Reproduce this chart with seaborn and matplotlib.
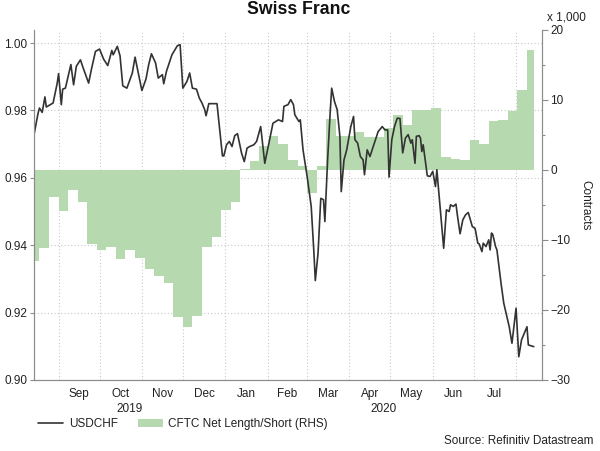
import matplotlib
matplotlib.use("Agg")
import matplotlib.pyplot as plt
import matplotlib.dates as mdates
from matplotlib.lines import Line2D
from matplotlib.patches import Patch
import pandas as pd
import seaborn as sns


# USDCHF spot
usd_dates = [
    "2019-08-14", "2019-08-17", "2019-08-18", "2019-08-20", "2019-08-22", "2019-08-23",
    "2019-08-26", "2019-08-28", "2019-08-31", "2019-09-01", "2019-09-03", "2019-09-04",
    "2019-09-06", "2019-09-08", "2019-09-10", "2019-09-12", "2019-09-14", "2019-09-17",
    "2019-09-19", "2019-09-23", "2019-09-25", "2019-09-28", "2019-10-01", "2019-10-04",
    "2019-10-07", "2019-10-10", "2019-10-11", "2019-10-14", "2019-10-16", "2019-10-18",
    "2019-10-21", "2019-10-25", "2019-10-27", "2019-11-01", "2019-11-04", "2019-11-06",
    "2019-11-08", "2019-11-11", "2019-11-13", "2019-11-16", "2019-11-17", "2019-11-19",
    "2019-11-23", "2019-11-27", "2019-11-29", "2019-12-01", "2019-12-04", "2019-12-06",
    "2019-12-08", "2019-12-11", "2019-12-13", "2019-12-15", "2019-12-17", "2019-12-18",
    "2019-12-20", "2019-12-26", "2019-12-27", "2019-12-30", "2019-12-31", "2020-01-02",
    "2020-01-04", "2020-01-06", "2020-01-08", "2020-01-10", "2020-01-13", "2020-01-15",
    "2020-01-17", "2020-01-19", "2020-01-22", "2020-01-24", "2020-01-27", "2020-01-30",
    "2020-02-03", "2020-02-05", "2020-02-09", "2020-02-12", "2020-02-13", "2020-02-16",
    "2020-02-18", "2020-02-20", "2020-02-21", "2020-02-24", "2020-02-25", "2020-02-27",
    "2020-03-01", "2020-03-04", "2020-03-06", "2020-03-07", "2020-03-09", "2020-03-11",
    "2020-03-13", "2020-03-14", "2020-03-16", "2020-03-18", "2020-03-19", "2020-03-21",
    "2020-03-23", "2020-03-25", "2020-03-26", "2020-03-28", "2020-03-30", "2020-04-02",
    "2020-04-04", "2020-04-05", "2020-04-07", "2020-04-09", "2020-04-11", "2020-04-12",
    "2020-04-14", "2020-04-16", "2020-04-18", "2020-04-20", "2020-04-22", "2020-04-25",
    "2020-04-27", "2020-04-29", "2020-04-30", "2020-05-02", "2020-05-04", "2020-05-06",
    "2020-05-08", "2020-05-10", "2020-05-12", "2020-05-14", "2020-05-16", "2020-05-17",
    "2020-05-19", "2020-05-20", "2020-05-22", "2020-05-23", "2020-05-24", "2020-05-25",
    "2020-05-28", "2020-05-30", "2020-06-01", "2020-06-03", "2020-06-04", "2020-06-07",
    "2020-06-09", "2020-06-11", "2020-06-13", "2020-06-14", "2020-06-16", "2020-06-18",
    "2020-06-19", "2020-06-21", "2020-06-23", "2020-06-25", "2020-06-27", "2020-06-30",
    "2020-07-02", "2020-07-04", "2020-07-05", "2020-07-07", "2020-07-08", "2020-07-10",
    "2020-07-12", "2020-07-13", "2020-07-14", "2020-07-15", "2020-07-17", "2020-07-18",
    "2020-07-21", "2020-07-23", "2020-07-27", "2020-07-29", "2020-08-01", "2020-08-03",
    "2020-08-05", "2020-08-09", "2020-08-10", "2020-08-14",
]
usd_values = [
    0.9728, 0.9792, 0.9807, 0.9794, 0.9840, 0.9810,
    0.9817, 0.9822, 0.9881, 0.9909, 0.9817, 0.9863,
    0.9866, 0.9901, 0.9936, 0.9876, 0.9931, 0.9950,
    0.9926, 0.9881, 0.9921, 0.9975, 0.9982, 0.9952,
    0.9933, 0.9978, 0.9965, 0.9990, 0.9962, 0.9873,
    0.9866, 0.9911, 0.9958, 0.9859, 0.9893, 0.9936,
    0.9968, 0.9941, 0.9896, 0.9906, 0.9879, 0.9916,
    0.9965, 0.9992, 0.9995, 0.9866, 0.9886, 0.9911,
    0.9866, 0.9863, 0.9837, 0.9822, 0.9802, 0.9784,
    0.9820, 0.9820, 0.9782, 0.9665, 0.9665, 0.9698,
    0.9708, 0.9693, 0.9725, 0.9731, 0.9673, 0.9648,
    0.9688, 0.9693, 0.9698, 0.9708, 0.9752, 0.9643,
    0.9723, 0.9762, 0.9772, 0.9767, 0.9812, 0.9817,
    0.9832, 0.9817, 0.9787, 0.9767, 0.9772, 0.9683,
    0.9604, 0.9515, 0.9376, 0.9295, 0.9376, 0.9539,
    0.9535, 0.9470, 0.9653, 0.9802, 0.9866, 0.9827,
    0.9802, 0.9723, 0.9559, 0.9653, 0.9683, 0.9752,
    0.9782, 0.9713, 0.9703, 0.9663, 0.9653, 0.9609,
    0.9683, 0.9663, 0.9688, 0.9713, 0.9737, 0.9752,
    0.9742, 0.9742, 0.9602, 0.9713, 0.9752, 0.9777,
    0.9776, 0.9674, 0.9718, 0.9728, 0.9703, 0.9713,
    0.9643, 0.9723, 0.9725, 0.9718, 0.9678, 0.9698,
    0.9606, 0.9604, 0.9619, 0.9574, 0.9624, 0.9485,
    0.9391, 0.9505, 0.9500, 0.9520, 0.9515, 0.9522,
    0.9490, 0.9434, 0.9475, 0.9490, 0.9497, 0.9455,
    0.9450, 0.9406, 0.9404, 0.9381, 0.9406, 0.9396,
    0.9416, 0.9386, 0.9436, 0.9431, 0.9396, 0.9386,
    0.9287, 0.9228, 0.9158, 0.9109, 0.9213, 0.9069,
    0.9119, 0.9158, 0.9104, 0.9099,
]

# CFTC net length/short, thousands of contracts, weekly steps
cftc_start = "2019-08-14"
cftc_first_week = "2019-08-18"
cftc_end = "2020-08-14"
cftc_values = [
    -13.0, -11.1, -3.8, -5.8, -2.9, -4.5, -10.6, -11.4, -11.0, -12.7,
    -11.4, -12.5, -14.1, -15.1, -16.1, -21.0, -22.4, -20.9, -11.0, -9.6,
    -5.7, -4.5, 0.2, 1.3, 3.5, 4.9, 3.7, 1.4, 0.6, -3.3,
    0.6, 7.3, 4.9, 4.9, 5.5, 4.7, 4.7, 6.0, 7.9, 6.5,
    8.6, 8.6, 8.9, 1.8, 1.6, 1.4, 4.3, 3.7, 7.0, 7.2,
    8.5, 11.5, 17.1,
]

left_ticks = [0.90, 0.92, 0.94, 0.96, 0.98, 1.00]
right_ticks = [-30, -20, -10, 0, 10, 20]
month_names = ["Sep", "Oct", "Nov", "Dec", "Jan", "Feb", "Mar", "Apr", "May", "Jun", "Jul"]
year_names = ["2019", "2020"]

line_color = "#333333"
green = "#b6d9b0"
axis_grey = "#8c8c8c"
text_color = "#222222"
fs = 8.5

sns.set_theme(style="white")
plt.rcParams["font.family"] = ["Liberation Sans", "DejaVu Sans"]
plt.rcParams.update({
    "font.size": fs,
    "xtick.labelsize": fs,
    "ytick.labelsize": fs,
    "axes.labelsize": fs,
    "legend.fontsize": fs,
})

fig = plt.figure(figsize=(6.0, 4.51), dpi=100)
ax = fig.add_axes([34 / 600, 71 / 451, 508 / 600, 350 / 451])
ax2 = ax.twinx()

x_lo = pd.Timestamp("2019-08-14")
x_hi = pd.Timestamp("2020-08-20")

# CFTC area, drawn in the right-hand scale but underneath the price line
weeks = pd.date_range(cftc_first_week, periods=len(cftc_values) - 1, freq="7D")
cftc_x = [pd.Timestamp(cftc_start)] + list(weeks) + [pd.Timestamp(cftc_end)]
cftc_y = cftc_values + [cftc_values[-1]]
ax2.set_ylim(-30, 20)
ax.fill_between(cftc_x, cftc_y, 0, step="post", color=green, linewidth=0,
                transform=ax2.transData, zorder=1)

usd = pd.DataFrame({"date": pd.to_datetime(usd_dates), "USDCHF": usd_values})
sns.lineplot(data=usd, x="date", y="USDCHF", ax=ax, color=line_color,
             linewidth=1.2, zorder=3)

ax.set_xlim(x_lo, x_hi)
ax2.set_xlim(x_lo, x_hi)
ax.set_ylim(0.90, 0.9 + 350 / 3370)
ax2.set_ylim(-30, 20)

# left axis
ax.set_yticks(left_ticks)
ax.set_yticklabels([f"{t:.2f}" for t in left_ticks])
ax.set_xlabel("")
ax.set_ylabel("")

# month ticks at month starts, labels mid-month
month_starts = pd.date_range("2019-09-01", "2020-08-01", freq="MS")
mids = [month_starts[i] + (month_starts[i + 1] - month_starts[i]) / 2
        for i in range(len(month_names))]
ax.set_xticks(month_starts)
ax.set_xticklabels([])
ax.set_xticks(mids, minor=True)
ax.set_xticklabels(month_names, minor=True)
ax.tick_params(axis="x", which="major", direction="out", length=4,
               color=axis_grey, width=0.8)
ax.tick_params(axis="x", which="minor", length=0, pad=6, labelcolor=text_color)
ax.tick_params(axis="y", direction="out", length=3, color=axis_grey,
               width=0.8, pad=2, labelcolor=text_color)
ax.grid(True, which="major", axis="both", linestyle=(0, (1, 2)),
        color="#c8c8c8", linewidth=0.8)
ax.set_axisbelow(True)

# right axis
ax2.set_yticks(right_ticks)
ax2.set_yticks(list(range(-25, 20, 10)), minor=True)
ax2.tick_params(axis="y", which="major", direction="out", length=4,
                color=axis_grey, width=0.8, pad=2, labelcolor=text_color)
ax2.tick_params(axis="y", which="minor", direction="out", length=2.5,
                color=axis_grey, width=0.8)
ax2.set_ylabel("Contracts", rotation=270, labelpad=0, color=text_color)
ax2.yaxis.set_label_coords(1.097, 0.5)
ax2.grid(False)

for a in (ax, ax2):
    a.spines["top"].set_visible(False)
    for s in ("left", "right", "bottom"):
        a.spines[s].set_color(axis_grey)
        a.spines[s].set_linewidth(0.8)

# year labels centred on each year's span within the axis
year_spans = [(x_lo, pd.Timestamp("2020-01-01")), (pd.Timestamp("2020-01-01"), x_hi)]
for name, (a0, a1) in zip(year_names, year_spans):
    centre = a0 + (a1 - a0) / 2
    ax.text(mdates.date2num(centre), -0.083, name, transform=ax.get_xaxis_transform(),
            ha="center", va="center", color=text_color)

fig.text(0.497, 0.978, "Swiss Franc", ha="center", va="center",
         fontsize=12.7, fontweight="bold", color="#111111")
fig.text(566 / 600, 1 - 17 / 451, "x 1,000", ha="center", va="center", color=text_color)
fig.text(593 / 600, 1 - 441 / 451, "Source: Refinitiv Datastream", ha="right",
         va="center", color=text_color)

handles = [Line2D([0], [0], color=line_color, linewidth=1.2),
           Patch(facecolor=green, edgecolor="none")]
fig.legend(handles, ["USDCHF", "CFTC Net Length/Short (RHS)"], loc="center left",
           bbox_to_anchor=(38 / 600, 1 - 424 / 451), ncol=2, frameon=False,
           handlelength=2.1, handleheight=0.7, handletextpad=0.5, columnspacing=1.7,
           borderaxespad=0, borderpad=0, labelcolor=text_color)

fig.savefig("out.png", dpi=100)
